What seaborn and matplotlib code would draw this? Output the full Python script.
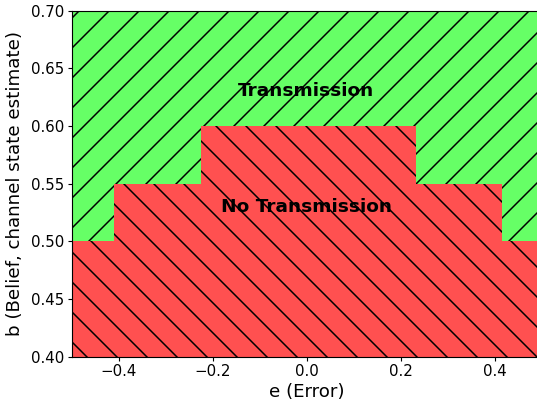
import matplotlib
matplotlib.use("Agg")
import matplotlib.pyplot as plt
import seaborn as sns
import numpy as np

# Data: step boundary between regions
edges_e = [-0.5, -0.41, -0.225, 0.232, 0.415, 0.5]
threshold_b = [0.50, 0.55, 0.60, 0.55, 0.50]
b_min, b_max = 0.40, 0.70
x_ticks = [-0.4, -0.2, 0.0, 0.2, 0.4]
y_ticks = [0.40, 0.45, 0.50, 0.55, 0.60, 0.65, 0.70]
label_top = "Transmission"
label_bottom = "No Transmission"

sns.set_theme(style="ticks")
plt.rcParams['font.family'] = ['DejaVu Sans']
plt.rcParams['hatch.linewidth'] = 0.6
plt.rcParams['hatch.color'] = 'black'

DPI = 180
fig = plt.figure(figsize=(537 / DPI, 400 / DPI), dpi=DPI)
ax = fig.add_axes([71.5 / 537, 43.5 / 400, 470 / 537, 346 / 400])

ys = threshold_b + [threshold_b[-1]]
ax.fill_between(edges_e, b_min, ys, step='post', facecolor='#ff5050',
                edgecolor='black', linewidth=0, hatch='\\\\')
ax.fill_between(edges_e, ys, b_max, step='post', facecolor='#66ff66',
                edgecolor='black', linewidth=0, hatch='//')

ax.text(0.0, 0.630, label_top, ha='center', va='center', fontsize=7.4,
        fontweight='bold', color='black')
ax.text(0.0, 0.530, label_bottom, ha='center', va='center', fontsize=7.4,
        fontweight='bold', color='black')

ax.set_xlim(-0.5, 0.5)
ax.set_ylim(b_min, b_max)
ax.set_xticks(x_ticks)
ax.set_xticklabels([f"{v:.1f}".replace('-', '\u2212') for v in x_ticks])
ax.set_yticks(y_ticks)
ax.set_yticklabels([f"{v:.2f}" for v in y_ticks])
ax.tick_params(labelsize=6.0, length=1.6, width=0.45, pad=1.5, color='black',
               labelcolor='black')
for s in ax.spines.values():
    s.set_linewidth(0.45)
    s.set_color('black')
ax.set_xlabel("e (Error)", fontsize=7.3, labelpad=1.5, color='black')
ax.set_ylabel("b (Belief, channel state estimate)", fontsize=7.3, labelpad=2.5,
              color='black')

fig.savefig("out.png", dpi=DPI)
